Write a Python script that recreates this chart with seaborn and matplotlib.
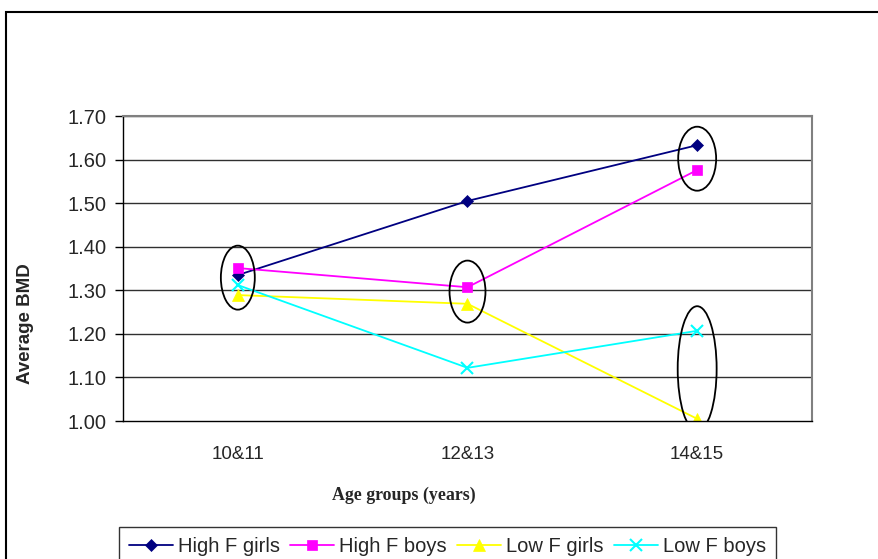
import matplotlib
matplotlib.use("Agg")
import matplotlib.pyplot as plt
import matplotlib.patches as mpatches
from matplotlib.patches import Ellipse
import seaborn as sns
import pandas as pd

ages = ["10&11", "12&13", "14&15"]
high_f_girls = [1.335, 1.505, 1.633]
high_f_boys = [1.351, 1.307, 1.576]
low_f_girls = [1.289, 1.269, 1.005]
low_f_boys = [1.312, 1.122, 1.207]
series_names = ["High F girls", "High F boys", "Low F girls", "Low F boys"]
yticks = [1.00, 1.10, 1.20, 1.30, 1.40, 1.50, 1.60, 1.70]

sns.set_theme(style="white")
plt.rcParams['font.family'] = ['Liberation Sans', 'DejaVu Sans']

fig = plt.figure(figsize=(8.79, 5.59), dpi=100)
ax = fig.add_axes([123/879, 1-421/559, (812-123)/879, (421-116)/559])

colors = ["#000080", "#FF00FF", "#FFFF00", "#00FFFF"]
markers = ["D", "s", "^", "x"]
msizes = [6, 7, 8, 9]
for name, vals, c, m, ms in zip(series_names, [high_f_girls, high_f_boys, low_f_girls, low_f_boys], colors, markers, msizes):
    df = pd.DataFrame({"age": ages, "bmd": vals})
    sns.lineplot(data=df, x="age", y="bmd", ax=ax, color=c, marker=m, markersize=ms,
                 markeredgecolor=c, markeredgewidth=1.5 if m == "x" else 0.5, linewidth=1.3, label=name, sort=False)

ax.set_xlim(-0.5, 2.5)
ax.set_ylim(1.0, 1.7)
ax.set_yticks(yticks)
ax.set_yticklabels([f"{v:.2f}" for v in yticks], fontsize=14.5)
ax.set_xticks([0, 1, 2])
ax.set_xticklabels(ages, fontsize=13.5)
ax.set_xticks([-0.5, 0.5, 1.5, 2.5], minor=True)
ax.tick_params(axis='x', which='major', length=0, pad=18)
ax.tick_params(axis='x', which='minor', length=6, width=1, color='black', direction='out')
ax.tick_params(axis='y', length=6, width=1, color='black', direction='out', left=True, pad=6)
for y in yticks[1:]:
    ax.axhline(y, color="#303030", lw=1.0, zorder=0)
for s in ["left", "bottom"]:
    ax.spines[s].set_color("black")
    ax.spines[s].set_linewidth(1.0)
for s in ["top", "right"]:
    ax.spines[s].set_color("#808080")
    ax.spines[s].set_linewidth(1.5)

ax.set_xlabel("Age groups (years)", fontsize=12.9, fontweight="bold",
              family=["Liberation Serif", "DejaVu Serif"])
ax.xaxis.set_label_coords((403.5-123)/689, (421-487)/305)
ax.set_ylabel("Average BMD", fontsize=13.5, fontweight="bold")
ax.yaxis.set_label_coords((25-123)/689, (421-324)/305)
ax.yaxis.label.set_verticalalignment("center")

# ellipses (in data coordinates)
px_x = 230.0
px_y = 435.7
for cx, cy, w, h in [(0, 1.329, 34, 64), (1, 1.297, 36, 62), (2, 1.602, 38, 64), (2, 1.12, 39, 125)]:
    ax.add_patch(Ellipse((cx, cy), w/px_x, h/px_y, fill=False, edgecolor="black", lw=1.3, zorder=5))

ax.get_legend().remove()
handles, labels = ax.get_legend_handles_labels()
leg = fig.legend(handles, labels, loc="upper center", bbox_to_anchor=(447.5/879, 1-527/559), ncol=4,
                 fontsize=14.5, frameon=True, fancybox=False, edgecolor="black", handlelength=2.2,
                 handletextpad=0.25, columnspacing=0.5, borderpad=0.5, borderaxespad=0)
leg.get_frame().set_linewidth(1.0)

fig.patches.append(mpatches.Rectangle((6/879, -0.1), 1.2, 1-12/559+0.1, transform=fig.transFigure,
                                      fill=False, edgecolor="black", lw=1.5, clip_on=False))

fig.savefig("out.png", dpi=100)
